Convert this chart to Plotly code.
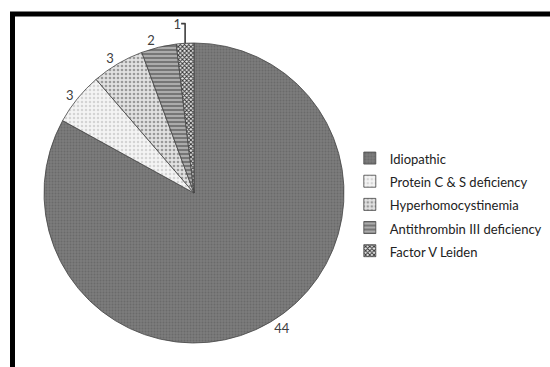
import plotly.graph_objects as go

labels = ["Idiopathic", "Protein C & S deficiency", "Hyperhomocystinemia",
          "Antithrombin III deficiency", "Factor V Leiden"]
values = [44, 3, 3, 2, 1]

bgcolors = ["#7c7c7c", "#f4f4f4", "#e2e2e2", "#ababab", "#e8e8e8"]
fgcolors = ["#6a6a6a", "#d4d4d4", "#9a9a9a", "#707070", "#333333"]
shapes_ = [".", ".", ".", "-", "x"]
sizes = [3, 4, 4, 4, 3]
solid = [0.35, 0.3, 0.35, 0.45, 0.55]

W, H = 550, 367
cx, cy, r = 194, 193, 150

# legend text kept at 13px while the legend line height comes from a larger font
legend_labels = [f"<span style='font-size:13px'>{t}</span>" for t in labels]

fig = go.Figure(go.Pie(
    labels=legend_labels, values=values, sort=False, direction="clockwise", rotation=0,
    textinfo="value", textposition="outside",
    textfont=dict(family="Lato, Open Sans, sans-serif", size=13, color="#404040"),
    marker=dict(
        colors=bgcolors,
        line=dict(color="#444444", width=0.8),
        pattern=dict(shape=shapes_, bgcolor=bgcolors, fgcolor=fgcolors,
                     size=sizes, solidity=solid, fillmode="replace"),
    ),
    domain=dict(x=[(cx - r) / W, (cx + r) / W], y=[1 - (cy + r) / H, 1 - (cy - r) / H]),
    automargin=False,
))

fig.update_layout(
    width=W, height=H,
    margin=dict(l=0, r=0, t=0, b=0),
    paper_bgcolor="white",
    showlegend=True,
    legend=dict(x=0.636, y=1 - 204.5 / H, xanchor="left", yanchor="middle",
                font=dict(family="Lato, Open Sans, sans-serif", size=15.5, color="#222222"),
                itemwidth=30, bgcolor="rgba(0,0,0,0)"),
    shapes=[dict(type="rect", xref="paper", yref="paper",
                 x0=12.5 / W, x1=1.2, y0=-0.2, y1=1 - 14 / H,
                 line=dict(color="black", width=5), layer="above")],
)

fig.write_html("out.html")
